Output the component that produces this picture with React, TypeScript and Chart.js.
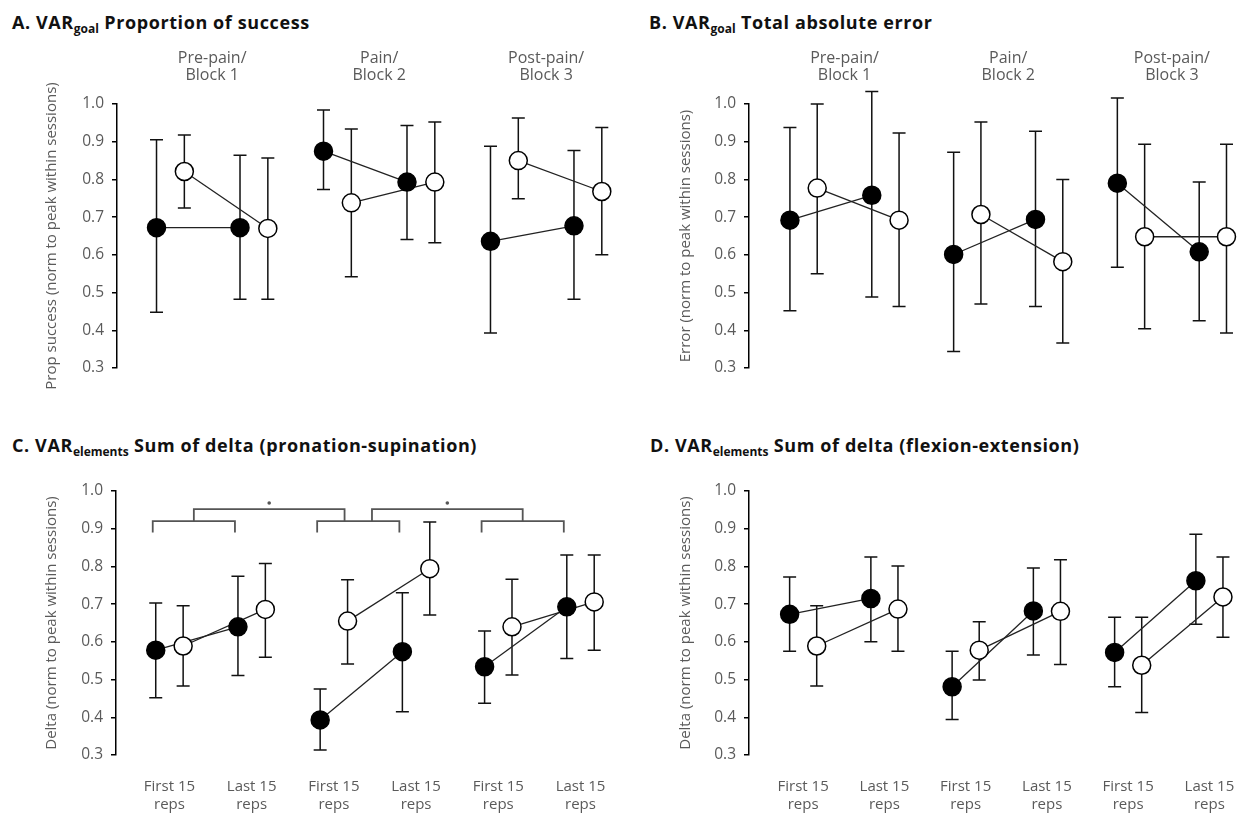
import React, { useEffect, useRef } from "react";
import { Chart, registerables } from "chart.js";

Chart.register(...registerables);

const FONT = "'Open Sans', Lato, sans-serif";
const TEXT = "#5a5a5a";

// x slots: filled marker at first/last 15 reps of each block, open marker one slot to the right
const filledX = [0, 3, 6, 9, 12, 15];
const openX = [1, 4, 7, 10, 13, 16];
const blockCentres = [2, 8, 14];
const blockNames = [
  ["Pre-pain/", "Block 1"],
  ["Pain/", "Block 2"],
  ["Post-pain/", "Block 3"],
];
const repTickX = [0.5, 3.5, 6.5, 9.5, 12.5, 15.5];
const repTickLabels = [
  ["First 15", "reps"],
  ["Last 15", "reps"],
  ["First 15", "reps"],
  ["Last 15", "reps"],
  ["First 15", "reps"],
  ["Last 15", "reps"],
];
const yTicks = [0.3, 0.4, 0.5, 0.6, 0.7, 0.8, 0.9, 1.0];

// A. Proportion of success
const aFilled = [0.672, 0.672, 0.875, 0.793, 0.636, 0.677];
const aFilledLo = [0.448, 0.482, 0.773, 0.641, 0.393, 0.482];
const aFilledHi = [0.905, 0.864, 0.984, 0.943, 0.888, 0.877];
const aOpen = [0.821, 0.67, 0.738, 0.793, 0.85, 0.768];
const aOpenLo = [0.724, 0.482, 0.542, 0.632, 0.749, 0.6];
const aOpenHi = [0.918, 0.857, 0.934, 0.952, 0.963, 0.938];

// B. Total absolute error
const bFilled = [0.692, 0.758, 0.601, 0.694, 0.79, 0.608];
const bFilledLo = [0.452, 0.488, 0.344, 0.463, 0.567, 0.425];
const bFilledHi = [0.938, 1.033, 0.872, 0.928, 1.016, 0.793];
const bOpen = [0.777, 0.692, 0.707, 0.582, 0.648, 0.648];
const bOpenLo = [0.55, 0.463, 0.47, 0.366, 0.404, 0.393];
const bOpenHi = [1.0, 0.923, 0.952, 0.8, 0.893, 0.893];

// C. Sum of delta (pronation-supination)
const cFilled = [0.578, 0.64, 0.393, 0.574, 0.534, 0.693];
const cFilledLo = [0.452, 0.511, 0.313, 0.415, 0.437, 0.556];
const cFilledHi = [0.703, 0.774, 0.475, 0.73, 0.629, 0.83];
const cOpen = [0.589, 0.686, 0.655, 0.794, 0.64, 0.706];
const cOpenLo = [0.483, 0.559, 0.541, 0.671, 0.512, 0.578];
const cOpenHi = [0.696, 0.808, 0.765, 0.918, 0.766, 0.83];

// D. Sum of delta (flexion-extension)
const dFilled = [0.673, 0.715, 0.481, 0.682, 0.572, 0.762];
const dFilledLo = [0.575, 0.6, 0.394, 0.565, 0.481, 0.647];
const dFilledHi = [0.772, 0.825, 0.575, 0.796, 0.665, 0.885];
const dOpen = [0.589, 0.687, 0.578, 0.681, 0.538, 0.719];
const dOpenLo = [0.483, 0.575, 0.499, 0.54, 0.413, 0.612];
const dOpenHi = [0.696, 0.801, 0.653, 0.818, 0.665, 0.825];

// significance brackets for panel C: pairs of first/last reps, then spans between blocks
const bracketPairs = [
  [0, 3],
  [6, 9],
  [12, 15],
];
const bracketSpans = [
  [1.5, 7],
  [8, 13.5],
];
const bracketPairLevel = 0.92;
const bracketPairEnd = 0.89;
const bracketSpanLevel = 0.952;
const starLevel = 0.968;

type PanelSpec = {
  key: string;
  title: string;
  sub: string;
  rest: string;
  yTitle: string;
  filled: number[];
  filledLo: number[];
  filledHi: number[];
  open: number[];
  openLo: number[];
  openHi: number[];
  left: number;
  top: number;
  width: number;
  height: number;
  titleLeft: number;
  titleTop: number;
  padLeft: number;
  axisWidth: number;
  padRight: number;
  padTop: number;
  padBottom: number;
  xMin: number;
  xMax: number;
  headers: boolean;
  reps: boolean;
  brackets: boolean;
};

const errorBarPlugin = {
  id: "errorBars",
  beforeDatasetsDraw(chart: any) {
    const { ctx } = chart;
    const xs = chart.scales.x;
    const ys = chart.scales.y;
    ctx.save();
    ctx.strokeStyle = "#111";
    ctx.lineWidth = 1.5;
    chart.data.datasets.forEach((ds: any) => {
      if (!ds.lower) return;
      ds.data.forEach((pt: any, i: number) => {
        const px = xs.getPixelForValue(pt.x);
        const t = ys.getPixelForValue(ds.upper[i]);
        const b = ys.getPixelForValue(ds.lower[i]);
        ctx.beginPath();
        ctx.moveTo(px, t);
        ctx.lineTo(px, b);
        ctx.moveTo(px - 6.5, t);
        ctx.lineTo(px + 6.5, t);
        ctx.moveTo(px - 6.5, b);
        ctx.lineTo(px + 6.5, b);
        ctx.stroke();
      });
    });
    ctx.restore();
  },
};

function headerPlugin(show: boolean) {
  return {
    id: "blockHeaders",
    afterDraw(chart: any) {
      if (!show) return;
      const { ctx, chartArea } = chart;
      const xs = chart.scales.x;
      ctx.save();
      ctx.fillStyle = TEXT;
      ctx.font = `16px ${FONT}`;
      ctx.textAlign = "center";
      ctx.textBaseline = "middle";
      blockCentres.forEach((c, i) => {
        const px = xs.getPixelForValue(c);
        ctx.fillText(blockNames[i][0], px, chartArea.top - 46);
        ctx.fillText(blockNames[i][1], px, chartArea.top - 29);
      });
      ctx.restore();
    },
  };
}

function bracketPlugin(show: boolean) {
  return {
    id: "sigBrackets",
    afterDraw(chart: any) {
      if (!show) return;
      const { ctx } = chart;
      const xs = chart.scales.x;
      const ys = chart.scales.y;
      const yPair = ys.getPixelForValue(bracketPairLevel);
      const yEnd = ys.getPixelForValue(bracketPairEnd);
      const ySpan = ys.getPixelForValue(bracketSpanLevel);
      ctx.save();
      ctx.strokeStyle = "#555";
      ctx.lineWidth = 1.8;
      bracketPairs.forEach(([a, b]) => {
        const x0 = xs.getPixelForValue(a) - 3;
        const x1 = xs.getPixelForValue(b) - 3;
        ctx.beginPath();
        ctx.moveTo(x0, yEnd);
        ctx.lineTo(x0, yPair);
        ctx.lineTo(x1, yPair);
        ctx.lineTo(x1, yEnd);
        ctx.stroke();
      });
      bracketSpans.forEach(([a, b]) => {
        const x0 = xs.getPixelForValue(a) - 3;
        const x1 = xs.getPixelForValue(b) - 3;
        ctx.beginPath();
        ctx.moveTo(x0, yPair);
        ctx.lineTo(x0, ySpan);
        ctx.lineTo(x1, ySpan);
        ctx.lineTo(x1, yPair);
        ctx.stroke();
        ctx.fillStyle = "#555";
        ctx.beginPath();
        ctx.arc((x0 + x1) / 2, ys.getPixelForValue(starLevel), 1.8, 0, Math.PI * 2);
        ctx.fill();
      });
      ctx.restore();
    },
  };
}

function lineSet(xs: number[], ys: number[]) {
  return {
    data: xs.map((x, i) => ({ x, y: ys[i] })),
    borderColor: "#222",
    borderWidth: 1.3,
    pointRadius: 0,
    showLine: true,
    order: 2,
    clip: false,
    segment: {
      borderColor: (c: any) => (c.p0DataIndex % 2 === 0 ? "#222" : "rgba(0,0,0,0)"),
    },
  };
}

function pointSet(xs: number[], ys: number[], lo: number[], hi: number[], fill: string) {
  return {
    data: xs.map((x, i) => ({ x, y: ys[i] })),
    lower: lo,
    upper: hi,
    showLine: false,
    pointRadius: 9,
    pointBackgroundColor: fill,
    pointBorderColor: "#000",
    pointBorderWidth: 1.5,
    order: 0,
    clip: false,
  };
}

function Panel({ p }: { p: PanelSpec }) {
  const ref = useRef<HTMLCanvasElement | null>(null);
  useEffect(() => {
    if (!ref.current) return;
    const chart = new Chart(ref.current, {
      type: "line",
      data: {
        datasets: [
          pointSet(filledX, p.filled, p.filledLo, p.filledHi, "#000"),
          pointSet(openX, p.open, p.openLo, p.openHi, "#fff"),
          lineSet(filledX, p.filled),
          lineSet(openX, p.open),
        ] as any,
      },
      options: {
        responsive: false,
        animation: false,
        events: [],
        layout: {
          padding: { left: p.padLeft, right: p.padRight, top: p.padTop, bottom: p.padBottom },
        },
        plugins: { legend: { display: false }, tooltip: { enabled: false } },
        scales: {
          x: {
            type: "linear",
            min: p.xMin,
            max: p.xMax,
            display: p.reps,
            afterBuildTicks: (s: any) => {
              s.ticks = repTickX.map((v) => ({ value: v }));
            },
            afterFit: (s: any) => {
              if (p.reps) s.height = 59;
            },
            grid: { display: false, drawTicks: false },
            border: { display: false },
            ticks: {
              autoSkip: false,
              maxRotation: 0,
              padding: 23,
              color: TEXT,
              font: { family: FONT, size: 15, lineHeight: 1.2 },
              callback: (_v: any, i: number) => repTickLabels[i],
            },
          },
          y: {
            type: "linear",
            min: 0.3,
            max: 1.0,
            afterBuildTicks: (s: any) => {
              s.ticks = yTicks.map((v) => ({ value: v }));
            },
            afterFit: (s: any) => {
              s.width = p.axisWidth;
            },
            border: { display: true, color: "#000", width: 1.5 },
            grid: {
              display: true,
              drawOnChartArea: false,
              drawTicks: true,
              tickLength: 5,
              color: "#000",
              lineWidth: 1.5,
            },
            ticks: {
              padding: 8,
              color: TEXT,
              font: { family: FONT, size: 15.5 },
              callback: (v: any) => Number(v).toFixed(1),
            },
            title: {
              display: true,
              text: p.yTitle,
              color: TEXT,
              font: { family: FONT, size: 15, lineHeight: 1.2 },
              padding: 0,
            },
          },
        },
      } as any,
      plugins: [errorBarPlugin, headerPlugin(p.headers), bracketPlugin(p.brackets)],
    });
    return () => chart.destroy();
  }, [p]);

  return (
    <>
      <div
        style={{
          position: "absolute",
          left: p.titleLeft,
          top: p.titleTop,
          font: `bold 18px ${FONT}`,
          letterSpacing: "0.6px",
          lineHeight: "22px",
          color: "#111",
          whiteSpace: "nowrap",
        }}
      >
        {p.title}
        <span style={{ fontSize: 12, position: "relative", top: 4, letterSpacing: 0 }}>{p.sub}</span>{" "}
        {p.rest}
      </div>
      <canvas
        ref={ref}
        width={p.width}
        height={p.height}
        style={{ position: "absolute", left: p.left, top: p.top, width: p.width, height: p.height }}
      />
    </>
  );
}

const panels: PanelSpec[] = [
  {
    key: "A",
    title: "A. VAR",
    sub: "goal",
    rest: "Proportion of success",
    yTitle: "Prop success (norm to peak within sessions)",
    filled: aFilled,
    filledLo: aFilledLo,
    filledHi: aFilledHi,
    open: aOpen,
    openLo: aOpenLo,
    openHi: aOpenHi,
    left: 0,
    top: 0,
    width: 629,
    height: 400,
    titleLeft: 12,
    titleTop: 11,
    padLeft: 43,
    axisWidth: 74,
    padRight: 4,
    padTop: 104,
    padBottom: 32,
    xMin: -1.42,
    xMax: 16.6,
    headers: true,
    reps: false,
    brackets: false,
  },
  {
    key: "B",
    title: "B. VAR",
    sub: "goal",
    rest: "Total absolute error",
    yTitle: "Error (norm to peak within sessions)",
    filled: bFilled,
    filledLo: bFilledLo,
    filledHi: bFilledHi,
    open: bOpen,
    openLo: bOpenLo,
    openHi: bOpenHi,
    left: 629,
    top: 0,
    width: 629,
    height: 400,
    titleLeft: 649,
    titleTop: 11,
    padLeft: 48,
    axisWidth: 72,
    padRight: 9,
    padTop: 104,
    padBottom: 32,
    xMin: -1.5,
    xMax: 16.77,
    headers: true,
    reps: false,
    brackets: false,
  },
  {
    key: "C",
    title: "C. VAR",
    sub: "elements",
    rest: "Sum of delta (pronation-supination)",
    yTitle: "Delta (norm to peak within sessions)",
    filled: cFilled,
    filledLo: cFilledLo,
    filledHi: cFilledHi,
    open: cOpen,
    openLo: cOpenLo,
    openHi: cOpenHi,
    left: 0,
    top: 400,
    width: 629,
    height: 414,
    titleLeft: 12,
    titleTop: 434,
    padLeft: 43,
    axisWidth: 73,
    padRight: 4,
    padTop: 91,
    padBottom: 0,
    xMin: -1.45,
    xMax: 16.6,
    headers: false,
    reps: true,
    brackets: true,
  },
  {
    key: "D",
    title: "D. VAR",
    sub: "elements",
    rest: "Sum of delta (flexion-extension)",
    yTitle: "Delta (norm to peak within sessions)",
    filled: dFilled,
    filledLo: dFilledLo,
    filledHi: dFilledHi,
    open: dOpen,
    openLo: dOpenLo,
    openHi: dOpenHi,
    left: 629,
    top: 400,
    width: 629,
    height: 414,
    titleLeft: 650,
    titleTop: 434,
    padLeft: 48,
    axisWidth: 72,
    padRight: 9,
    padTop: 91,
    padBottom: 0,
    xMin: -1.5,
    xMax: 16.77,
    headers: false,
    reps: true,
    brackets: false,
  },
];

export default function App() {
  return (
    <div
      style={{
        position: "fixed",
        left: 0,
        top: 0,
        width: 1258,
        height: 814,
        background: "#fff",
        overflow: "hidden",
      }}
    >
      {panels.map((p) => (
        <Panel key={p.key} p={p} />
      ))}
    </div>
  );
}
